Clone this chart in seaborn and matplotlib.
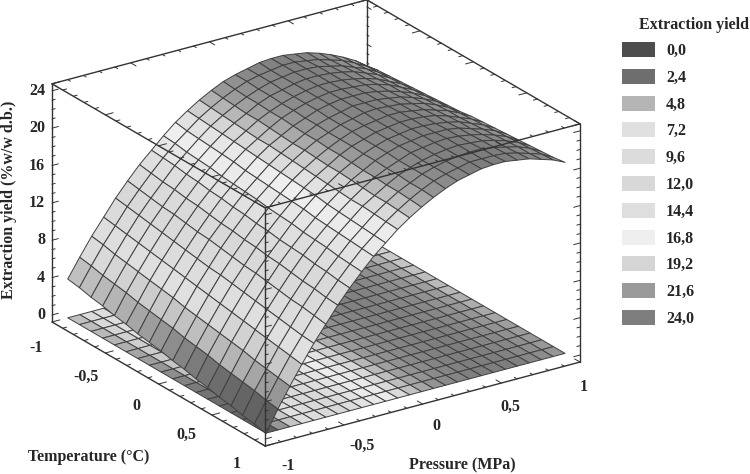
import numpy as np
import seaborn as sns
import matplotlib.pyplot as plt
from matplotlib.colors import LinearSegmentedColormap
from matplotlib.patches import Patch
from mpl_toolkits.mplot3d import proj3d

legend_levels = ['0,0', '2,4', '4,8', '7,2', '9,6', '12,0', '14,4', '16,8', '19,2', '21,6', '24,0']
legend_grays = ['#4d4d4d', '#6e6e6e', '#b5b5b5', '#e0e0e0', '#dcdcdc', '#d8d8d8', '#dedede', '#efefef', '#d5d5d5', '#9a9a9a', '#7e7e7e']
# z values where each legend gray is reached on the surface
gray_at_yield = [-0.75, 1.5, 3.5, 6.5, 9.0, 11.5, 14.0, 16.6, 18.2, 19.7, 21.4]

pressure_ticks = [-1, -0.5, 0, 0.5, 1]
pressure_labels = ['-1', '-0,5', '0', '0,5', '1']
temperature_ticks = [-1, -0.5, 0, 0.5, 1]
temperature_labels = ['-1', '-0,5', '0', '0,5', '1']
yield_ticks = [0, 4, 8, 12, 16, 20, 24]

pressure = np.linspace(-0.9, 1, 26)
temperature = np.linspace(-1, 0.86, 18)

# one row per pressure step, one column per temperature step
extraction_yield = np.array([
    [3.4, 3.2, 2.9, 2.7, 2.4, 2.2, 1.9, 1.7, 1.5, 1.2, 1.0, 0.7, 0.5, 0.2, 0.0, -0.3, -0.5, -0.8],
    [5.4, 5.2, 4.9, 4.7, 4.5, 4.2, 4.0, 3.8, 3.6, 3.3, 3.1, 2.9, 2.6, 2.4, 2.2, 2.0, 1.7, 1.5],
    [7.3, 7.1, 6.8, 6.6, 6.4, 6.2, 6.0, 5.8, 5.5, 5.3, 5.1, 4.9, 4.7, 4.5, 4.2, 4.0, 3.8, 3.6],
    [9.0, 8.8, 8.6, 8.4, 8.2, 8.0, 7.8, 7.6, 7.4, 7.2, 7.0, 6.8, 6.6, 6.4, 6.2, 6.0, 5.8, 5.6],
    [10.7, 10.5, 10.3, 10.1, 9.9, 9.7, 9.5, 9.3, 9.1, 9.0, 8.8, 8.6, 8.4, 8.2, 8.0, 7.8, 7.6, 7.5],
    [12.2, 12.0, 11.8, 11.6, 11.5, 11.3, 11.1, 11.0, 10.8, 10.6, 10.4, 10.3, 10.1, 9.9, 9.7, 9.6, 9.4, 9.2],
    [13.6, 13.4, 13.2, 13.1, 12.9, 12.8, 12.6, 12.4, 12.3, 12.1, 12.0, 11.8, 11.7, 11.5, 11.3, 11.2, 11.0, 10.9],
    [14.8, 14.7, 14.6, 14.4, 14.3, 14.1, 14.0, 13.8, 13.7, 13.5, 13.4, 13.2, 13.1, 13.0, 12.8, 12.7, 12.5, 12.4],
    [16.0, 15.9, 15.7, 15.6, 15.5, 15.3, 15.2, 15.1, 15.0, 14.8, 14.7, 14.6, 14.4, 14.3, 14.2, 14.0, 13.9, 13.8],
    [17.1, 16.9, 16.8, 16.7, 16.6, 16.5, 16.3, 16.2, 16.1, 16.0, 15.9, 15.8, 15.6, 15.5, 15.4, 15.3, 15.2, 15.1],
    [18.0, 17.9, 17.8, 17.7, 17.6, 17.5, 17.4, 17.3, 17.2, 17.1, 17.0, 16.9, 16.7, 16.6, 16.5, 16.4, 16.3, 16.2],
    [18.8, 18.7, 18.6, 18.5, 18.4, 18.3, 18.3, 18.2, 18.1, 18.0, 17.9, 17.8, 17.7, 17.6, 17.6, 17.5, 17.4, 17.3],
    [19.5, 19.4, 19.3, 19.2, 19.2, 19.1, 19.0, 18.9, 18.9, 18.8, 18.7, 18.7, 18.6, 18.5, 18.4, 18.4, 18.3, 18.2],
    [20.1, 20.0, 19.9, 19.9, 19.8, 19.8, 19.7, 19.6, 19.6, 19.5, 19.5, 19.4, 19.3, 19.3, 19.2, 19.2, 19.1, 19.0],
    [20.5, 20.5, 20.4, 20.4, 20.3, 20.3, 20.2, 20.2, 20.1, 20.1, 20.1, 20.0, 20.0, 19.9, 19.9, 19.8, 19.8, 19.7],
    [20.8, 20.8, 20.8, 20.7, 20.7, 20.7, 20.7, 20.6, 20.6, 20.6, 20.5, 20.5, 20.5, 20.4, 20.4, 20.4, 20.4, 20.3],
    [21.1, 21.0, 21.0, 21.0, 21.0, 21.0, 21.0, 20.9, 20.9, 20.9, 20.9, 20.9, 20.9, 20.9, 20.8, 20.8, 20.8, 20.8],
    [21.2, 21.2, 21.2, 21.2, 21.2, 21.2, 21.2, 21.2, 21.2, 21.1, 21.1, 21.1, 21.1, 21.1, 21.1, 21.1, 21.1, 21.1],
    [21.2, 21.2, 21.2, 21.2, 21.2, 21.2, 21.2, 21.2, 21.3, 21.3, 21.3, 21.3, 21.3, 21.3, 21.3, 21.3, 21.4, 21.4],
    [21.0, 21.0, 21.1, 21.1, 21.1, 21.1, 21.2, 21.2, 21.2, 21.3, 21.3, 21.3, 21.3, 21.4, 21.4, 21.4, 21.4, 21.5],
    [20.8, 20.8, 20.8, 20.9, 20.9, 21.0, 21.0, 21.0, 21.1, 21.1, 21.2, 21.2, 21.3, 21.3, 21.3, 21.4, 21.4, 21.5],
    [20.4, 20.4, 20.5, 20.6, 20.6, 20.7, 20.7, 20.8, 20.8, 20.9, 21.0, 21.0, 21.1, 21.1, 21.2, 21.2, 21.3, 21.3],
    [19.9, 20.0, 20.0, 20.1, 20.2, 20.3, 20.3, 20.4, 20.5, 20.5, 20.6, 20.7, 20.7, 20.8, 20.9, 20.9, 21.0, 21.1],
    [19.3, 19.4, 19.5, 19.6, 19.6, 19.7, 19.8, 19.9, 20.0, 20.1, 20.1, 20.2, 20.3, 20.4, 20.5, 20.6, 20.6, 20.7],
    [18.6, 18.7, 18.8, 18.9, 19.0, 19.1, 19.2, 19.3, 19.4, 19.5, 19.6, 19.7, 19.8, 19.9, 20.0, 20.1, 20.2, 20.3],
    [17.7, 17.9, 18.0, 18.1, 18.2, 18.3, 18.4, 18.5, 18.6, 18.8, 18.9, 19.0, 19.1, 19.2, 19.3, 19.4, 19.5, 19.7],
])

z_min, z_max = -0.75, 24.75
W, H = 750, 474

sns.set_theme(style='white')
plt.rcParams['font.family'] = ['Liberation Serif', 'DejaVu Serif']
plt.rcParams['font.weight'] = 'bold'
plt.rcParams['font.size'] = 11.5

fig = plt.figure(figsize=(W / 100, H / 100), dpi=100)
ax = fig.add_axes([0.1, 0.05, 0.6, 0.6 * W / H], projection='3d', proj_type='ortho', computed_zorder=False)
ax.set_box_aspect((380, 380, 259))
ax.view_init(elev=23.2, azim=-124.1)
ax.set_xlim(-1, 1)
ax.set_ylim(1, -1)  # temperature grows toward the viewer
ax.set_zlim(z_min, z_max)
ax.set_axis_off()

# gray ramp taken from the legend
stops = (np.array(gray_at_yield) - z_min) / (gray_at_yield[-1] - z_min)
gray_cmap = LinearSegmentedColormap.from_list('yield_gray', list(zip(stops, sns.color_palette(legend_grays))))

P, T = np.meshgrid(pressure, temperature, indexing='ij')
cell_mean = (extraction_yield[:-1, :-1] + extraction_yield[1:, :-1] + extraction_yield[:-1, 1:] + extraction_yield[1:, 1:]) / 4
cell_colors = gray_cmap((cell_mean - z_min) / (gray_at_yield[-1] - z_min))

mesh = dict(facecolors=cell_colors, rstride=1, cstride=1, shade=False, edgecolor='#404040', linewidth=0.7)
ax.plot_surface(P, T, np.full_like(P, z_min), zorder=2, **mesh)
ax.plot_surface(P, T, extraction_yield, zorder=3, **mesh)

frame = dict(color='#333333', lw=1.0)


def edge(p, t, z, zorder):
    ax.plot(p, t, z, zorder=zorder, **frame)


# box edges
edge([-1, 1], [-1, -1], [z_max, z_max], 1)
edge([1, 1], [-1, -1], [z_min, z_max], 1)
edge([1, 1], [-1, 1], [z_max, z_max], 1)
edge([-1, -1], [-1, 1], [z_min, z_min], 4)
edge([-1, 1], [1, 1], [z_min, z_min], 4)
edge([-1, -1], [-1, -1], [z_min, z_max], 4)
edge([1, 1], [1, 1], [z_min, z_max], 4)
edge([-1, -1], [1, 1], [z_min, z_max], 4)
edge([-1, -1], [-1, 1], [z_max, z_max], 4)
edge([-1, 1], [1, 1], [z_max, z_max], 4)

# tick marks on the box edges
fine = dict(color='#333333', lw=0.7)
for v in np.arange(-10, 11):
    v = v / 10
    size = 0.05 if v * 2 == round(v * 2) else 0.025
    for z, order in [(z_min, 4), (z_max, 4)]:
        ax.plot([-1, -1 + size], [v, v], [z, z], zorder=order, **fine)
        ax.plot([v, v], [1, 1 - size], [z, z], zorder=order, **fine)
    ax.plot([1, 1 - size], [v, v], [z_max, z_max], zorder=1, **fine)
    ax.plot([v, v], [-1, -1 + size], [z_max, z_max], zorder=1, **fine)
for z in np.arange(0, 25):
    size = 0.04 if z % 4 == 0 else 0.02
    ax.plot([-1, -1 + size], [-1, -1], [z, z], zorder=4, **fine)
    ax.plot([1, 1 - size], [1, 1], [z, z], zorder=4, **fine)
    ax.plot([-1, -1 + size], [1, 1], [z, z], zorder=4, **fine)
    ax.plot([1, 1], [-1, -1 + size], [z, z], zorder=1, **fine)


def corner(p, t, z):
    xs, ys, _ = proj3d.proj_transform(p, t, z, ax.get_proj())
    return ax.transData.transform((xs, ys))


# fit the box onto its place in the figure
size = 0.6 * W
left, bottom = 0.1 * W, 0.05 * H
for _ in range(3):
    fig.canvas.draw()
    a = corner(-1, -1, z_min)
    b = corner(1, 1, z_min)
    k = 528 / (b[0] - a[0])
    size = size * k
    ax.set_position([left / W, bottom / H, size / W, size / H])
    fig.canvas.draw()
    a = corner(-1, -1, z_min)
    left += 52 - a[0]
    bottom += (H - 322) - a[1]
    ax.set_position([left / W, bottom / H, size / W, size / H])


def label(x, y, s, **kw):
    # x, y in pixels from the top left of the picture
    fig.text(x / W, 1 - y / H, s, ha=kw.pop('ha', 'center'), va='center', **kw)


# tick labels
for p, lab in zip(pressure_ticks, pressure_labels):
    label(436 + 148 * p, 426.5 - 39.5 * p, lab)
for t, lab in zip(temperature_ticks, temperature_labels):
    label(136.5 + 100.5 * t, 406 + 58 * t, lab)
for z in yield_ticks:
    label(45, 315 - 9.33 * z, str(z), ha='right')

# axis titles
label(89, 457, 'Temperature (°C)')
label(462, 465, 'Pressure (MPa)')
label(9, 200, 'Extraction yield (%w/w d.b.)', rotation=90)

# legend
label(639, 25, 'Extraction yield', ha='left')
handles = [Patch(facecolor=c, edgecolor='none') for c in legend_grays]
fig.legend(handles, legend_levels, loc='upper left', bbox_to_anchor=(622 / W, 1 - 42 / H),
           frameon=False, borderpad=0, borderaxespad=0, handlelength=2.06, handleheight=1.06,
           labelspacing=0.62, handletextpad=0.7, fontsize=11.5)

fig.savefig('out.png', dpi=100)
